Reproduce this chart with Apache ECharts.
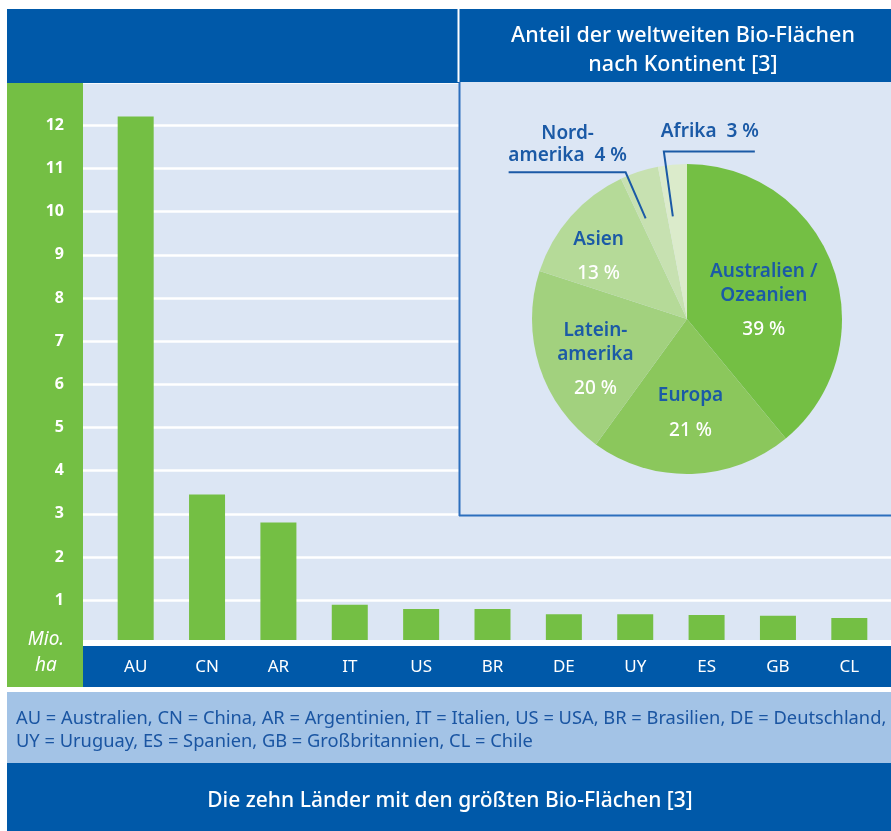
<!DOCTYPE html>
<html>
<head>
<meta charset="utf-8">
<script src="https://cdn.jsdelivr.net/npm/echarts@6/dist/echarts.min.js"></script>
<style>
  html, body { margin: 0; background: #fff; }
  #chart { width: 891px; height: 831px; }
</style>
</head>
<body>
<div id="chart"></div>
<script>
// bar chart: organic area in Mio. ha
const countries = ['AU', 'CN', 'AR', 'IT', 'US', 'BR', 'DE', 'UY', 'ES', 'GB', 'CL'];
const areas = [12.2, 3.45, 2.8, 0.9, 0.8, 0.8, 0.68, 0.68, 0.66, 0.64, 0.59];

// pie: share by continent in %
const continents = ['Australien /\nOzeanien', 'Europa', 'Latein-\namerika', 'Asien', 'Nord-\namerika', 'Afrika'];
const shares = [39, 21, 20, 13, 4, 3];

const blue = '#0059a9';
const textBlue = '#1b5aa6';
const green = '#74bf44';
const sliceColors = ['#74bf44', '#8bc75c', '#a2d17e', '#b5da98', '#c7e1b1', '#dbebcb'];
const font = 'Noto Sans';

const legendText = 'AU = Australien, CN = China, AR = Argentinien, IT = Italien, US = USA, BR = Brasilien, DE = Deutschland,\nUY = Uruguay, ES = Spanien, GB = Großbritannien, CL = Chile';

const chart = echarts.init(document.getElementById('chart'), null, { renderer: 'canvas' });

const richName = (name) => name.split('\n').map(l => '{n|' + l + '}').join('\n');

// nudges for the inside labels so they sit like in the print
const innerNudge = [[1, 14], [1, 19], [-15, 21], [-28, -4]];

chart.setOption({
  animation: false,
  textStyle: { fontFamily: font },
  title: [
    {
      text: 'Anteil der weltweiten Bio-Flächen\nnach Kontinent [3]',
      left: 678, top: 16, textAlign: 'center', z: 20,
      textStyle: { color: '#fff', fontSize: 21.5, fontWeight: 500, lineHeight: 29, fontFamily: font }
    },
    {
      text: 'Die zehn Länder mit den größten Bio-Flächen [3]',
      left: 445, top: 786, textAlign: 'center', z: 20,
      textStyle: { color: '#fff', fontSize: 21, fontWeight: 500, fontFamily: font }
    },
    {
      text: legendText,
      left: 11, top: 702, z: 20,
      textStyle: { color: '#1a55a2', fontSize: 18.3, fontWeight: 'normal', lineHeight: 23, fontFamily: font }
    }
  ],
  graphic: [
    { type: 'rect', z: -5, shape: { x: 7, y: 82, width: 76, height: 605 }, style: { fill: green } },
    { type: 'rect', z: -5, shape: { x: 83, y: 82, width: 808, height: 558 }, style: { fill: '#dce6f4' } },
    { type: 'rect', z: 3, shape: { x: 83, y: 640, width: 808, height: 6 }, style: { fill: '#fff' } },
    { type: 'rect', z: -5, shape: { x: 83, y: 646, width: 808, height: 41 }, style: { fill: blue } },
    { type: 'rect', z: -5, shape: { x: 7, y: 692, width: 884, height: 71 }, style: { fill: '#a3c3e6' } },
    { type: 'rect', z: -5, shape: { x: 7, y: 763, width: 884, height: 68 }, style: { fill: blue } },
    { type: 'rect', z: 1, shape: { x: 7, y: 9, width: 884, height: 74 }, style: { fill: blue } },
    { type: 'line', z: 2, shape: { x1: 458.5, y1: 9, x2: 458.5, y2: 82 }, style: { stroke: '#fff', lineWidth: 2 } },
    { type: 'rect', z: 1, shape: { x: 459, y: 82, width: 432, height: 434 }, style: { fill: '#dce6f4' } },
    { type: 'line', z: 1, shape: { x1: 459.5, y1: 82, x2: 459.5, y2: 516 }, style: { stroke: '#2c6fbd', lineWidth: 2 } },
    { type: 'line', z: 1, shape: { x1: 459, y1: 515.5, x2: 891, y2: 515.5 }, style: { stroke: '#2c6fbd', lineWidth: 2 } },
    { type: 'text', z: 5, style: { x: 46, y: 640, text: 'Mio.', fill: '#fff', font: 'italic 19px "Noto Sans"', align: 'center', verticalAlign: 'middle' } },
    { type: 'text', z: 5, style: { x: 46, y: 666, text: 'ha', fill: '#fff', font: 'italic 19px "Noto Sans"', align: 'center', verticalAlign: 'middle' } }
  ],
  grid: [
    { left: 100, right: 6, top: 82, bottom: 187.5 },
    { left: 83, right: 0, top: 82, bottom: 187.5 }
  ],
  xAxis: [
    {
      type: 'category', gridIndex: 0, data: countries,
      axisLine: { show: false }, axisTick: { show: false },
      axisLabel: { color: '#fff', fontSize: 17, margin: 15 }
    },
    { type: 'value', gridIndex: 1, show: false }
  ],
  yAxis: [
    {
      type: 'value', gridIndex: 0, min: 0, max: 13, interval: 1,
      splitLine: { show: false },
      axisLine: { show: false }, axisTick: { show: false },
      axisLabel: {
        color: '#fff', fontSize: 16, fontWeight: 'bold', margin: 36,
        formatter: v => (v === 0 || v === 13) ? '' : v
      }
    },
    {
      type: 'value', gridIndex: 1, min: 0, max: 13, interval: 1,
      axisLine: { show: false }, axisTick: { show: false }, axisLabel: { show: false },
      splitLine: { lineStyle: { color: '#fff', width: 2.5 } }
    }
  ],
  series: [
    {
      type: 'bar', xAxisIndex: 0, yAxisIndex: 0,
      data: areas, barWidth: 36,
      itemStyle: { color: green }
    },
    {
      type: 'pie', z: 4,
      center: [687, 319], radius: 155, startAngle: 90, clockwise: true,
      data: shares.map((v, i) => ({
        value: v, name: continents[i],
        itemStyle: { color: sliceColors[i] },
        label: { show: i < 4 }
      })),
      label: {
        position: 'inside',
        formatter: p => richName(p.name) + '\n{p|' + p.value + ' %}',
        rich: {
          n: { color: textBlue, fontSize: 19, fontWeight: 600, lineHeight: 24, fontFamily: font },
          p: { color: '#fff', fontSize: 19, fontWeight: 500, lineHeight: 45, fontFamily: font }
        }
      },
      labelLayout: p => {
        const d = innerNudge[p.dataIndex];
        return d ? { dx: d[0], dy: d[1] } : {};
      },
      labelLine: { show: false },
      emphasis: { disabled: true }
    },
    {
      type: 'pie', z: 5, silent: true,
      center: [687, 319], radius: 108, startAngle: 90, clockwise: true,
      data: shares.map((v, i) => ({
        value: v, name: continents[i],
        itemStyle: { color: 'rgba(0,0,0,0)' },
        label: { show: i >= 4 },
        labelLine: { show: i >= 4 }
      })),
      label: {
        position: 'outside',
        formatter: p => p.name + '  ' + p.value + ' %',
        color: textBlue, fontSize: 19, fontWeight: 600, lineHeight: 22, fontFamily: font
      },
      labelLine: { length: 40, length2: 60, lineStyle: { color: textBlue, width: 2 } },
      labelLayout: p => {
        const pts = p.labelLinePoints;
        if (!pts) return {};
        if (p.dataIndex === 4) {
          const s = [pts[0][0] - 8, pts[0][1] + 2];
          const k = [s[0] - 20, s[1] - 46];
          return {
            x: k[0] - 58, y: k[1] - 6, align: 'center', verticalAlign: 'bottom',
            labelLinePoints: [s, k, [k[0] - 117, k[1]]]
          };
        }
        if (p.dataIndex === 5) {
          const s = [pts[0][0] - 4, pts[0][1] + 5];
          const k = [s[0] - 9, s[1] - 65];
          return {
            x: k[0] - 3, y: k[1] - 20, align: 'left', verticalAlign: 'middle',
            labelLinePoints: [s, k, [k[0] + 91, k[1]]]
          };
        }
        return {};
      },
      emphasis: { disabled: true }
    }
  ]
});
</script>
</body>
</html>
